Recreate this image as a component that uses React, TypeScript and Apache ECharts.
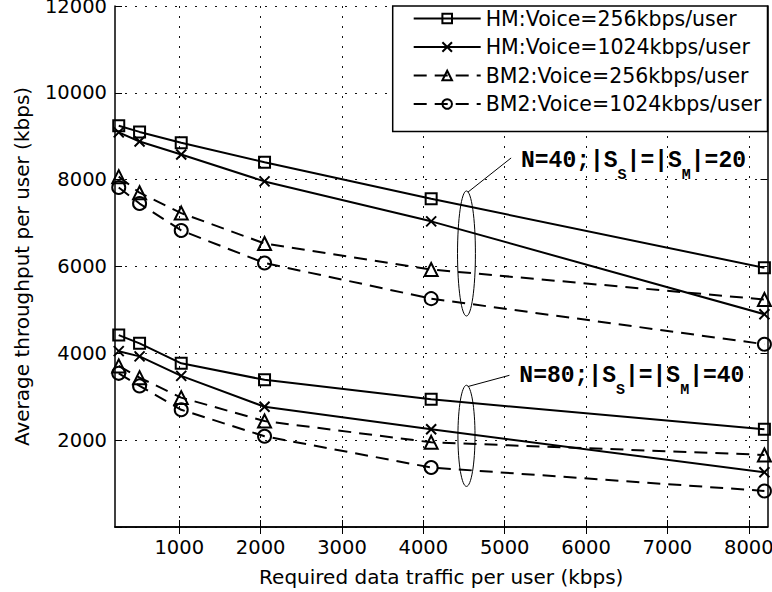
import React, { useEffect, useRef } from 'react';
import * as echarts from 'echarts';

// Required data traffic per user (kbps)
const xValues = [256, 512, 1024, 2048, 4096, 8192];
const xTicks = [1000, 2000, 3000, 4000, 5000, 6000, 7000, 8000];
const seriesNames = [
  'HM:Voice=256kbps/user',
  'HM:Voice=1024kbps/user',
  'BM2:Voice=256kbps/user',
  'BM2:Voice=1024kbps/user',
];

// N=40; |S_S|=|S_M|=20
const hm256N40 = [9240, 9100, 8850, 8400, 7560, 5970];
const hm1024N40 = [9090, 8880, 8580, 7960, 7040, 4900];
const bm256N40 = [8070, 7700, 7230, 6530, 5930, 5240];
const bm1024N40 = [7820, 7450, 6830, 6080, 5260, 4210];

// N=80; |S_S|=|S_M|=40
const hm256N80 = [4420, 4230, 3770, 3390, 2940, 2250];
const hm1024N80 = [4050, 3930, 3480, 2770, 2250, 1260];
const bm256N80 = [3710, 3440, 2980, 2440, 1950, 1660];
const bm1024N80 = [3540, 3250, 2700, 2090, 1370, 830];

const annotationLabels = [
  ['N=40;|S', 'S', '|=|S', 'M', '|=20'],
  ['N=80;|S', 'S', '|=|S', 'M', '|=40'],
];
// ellipse centre, half-sizes, leader line, text anchor (data coordinates)
const annotationEllipses = [
  [4530, 6300, 110, 1440],
  [4530, 2100, 105, 1165],
];
const annotationLeaders = [
  [4546, 7710, 5079, 8500],
  [4546, 3234, 5058, 3494],
];
const annotationTextAnchors = [
  [5200, 8437],
  [5180, 3477],
];

const FONT = 'DejaVu Sans';
const FS = 19.5;
const X_SYMBOL = 'path://M0,0L10,10M0,10L10,0';

function makeSeries(name: string, values: number[], kind: 'rect' | 'x' | 'triangle' | 'circle') {
  const dashed = kind === 'triangle' || kind === 'circle';
  const symbol = kind === 'x' ? X_SYMBOL : kind;
  const size = kind === 'rect' ? 11 : kind === 'x' ? 10 : 13;
  return {
    type: 'line',
    name,
    data: xValues.map((x, i) => [x, values[i]]),
    symbol,
    symbolSize: size,
    showAllSymbol: true,
    lineStyle: { color: '#000', width: 2, type: dashed ? [13, 8] : 'solid' },
    itemStyle: { color: 'rgba(0,0,0,0)', borderColor: '#000', borderWidth: 2 },
    emphasis: { disabled: true },
    z: 3,
  };
}

export default function App() {
  const ref = useRef<HTMLDivElement>(null);
  useEffect(() => {
    if (!ref.current) return;
    const chart = echarts.init(ref.current, null, { renderer: 'svg' });
    const axisLine = { show: true, lineStyle: { color: '#000', width: 1.5 } };
    const tickStyle = { color: '#000', width: 1 };
    const gridLine = { show: true, lineStyle: { color: '#111', width: 1, type: [2, 8] } };
    const option: any = {
      animation: false,
      backgroundColor: '#fff',
      textStyle: { fontFamily: FONT },
      grid: { left: 115, top: 6, right: 4.5, bottom: 65, containLabel: false, outerBoundsMode: 'none' },
      legend: {
        data: seriesNames,
        orient: 'vertical',
        right: 4.5,
        top: 6,
        padding: [2, 6, 17, 20],
        itemWidth: 67,
        itemHeight: 12,
        itemGap: 7.5,
        backgroundColor: '#fff',
        borderColor: '#000',
        borderWidth: 1.5,
        textStyle: { fontFamily: FONT, fontSize: 20.5, color: '#000' },
        selectedMode: false,
        z: 10,
      },
      xAxis: [
        {
          type: 'value',
          min: 210,
          max: 8230,
          position: 'bottom',
          axisLine,
          axisTick: { show: true, inside: true, length: 7, customValues: xTicks, lineStyle: tickStyle },
          axisLabel: {
            customValues: xTicks,
            color: '#000',
            fontFamily: FONT,
            fontSize: FS,
            margin: 10,
            formatter: (v: number) => String(v),
          },
          splitLine: gridLine,
          name: 'Required data traffic per user (kbps)',
          nameLocation: 'middle',
          nameGap: 40,
          nameTextStyle: { color: '#000', fontFamily: FONT, fontSize: 20 },
        },
        {
          type: 'value',
          min: 210,
          max: 8230,
          position: 'top',
          axisLine,
          axisTick: { show: true, inside: true, length: 7, customValues: xTicks, lineStyle: tickStyle },
          axisLabel: { show: false },
          splitLine: { show: false },
        },
      ],
      yAxis: [
        {
          type: 'value',
          min: 0,
          max: 12000,
          interval: 2000,
          position: 'left',
          axisLine,
          axisTick: { show: true, inside: true, length: 7, lineStyle: tickStyle },
          axisLabel: {
            color: '#000',
            fontFamily: FONT,
            fontSize: FS,
            margin: 8,
            formatter: (v: number) => (v === 0 ? '' : String(v)),
          },
          splitLine: gridLine,
          name: 'Average throughput per user (kbps)',
          nameLocation: 'middle',
          nameGap: 83,
          nameTextStyle: { color: '#000', fontFamily: FONT, fontSize: 20 },
        },
        {
          type: 'value',
          min: 0,
          max: 12000,
          interval: 2000,
          position: 'right',
          axisLine,
          axisTick: { show: true, inside: true, length: 7, lineStyle: tickStyle },
          axisLabel: { show: false },
          splitLine: { show: false },
        },
      ],
      series: [
        makeSeries(seriesNames[0], hm256N40, 'rect'),
        makeSeries(seriesNames[1], hm1024N40, 'x'),
        makeSeries(seriesNames[2], bm256N40, 'triangle'),
        makeSeries(seriesNames[3], bm1024N40, 'circle'),
        makeSeries(seriesNames[0], hm256N80, 'rect'),
        makeSeries(seriesNames[1], hm1024N80, 'x'),
        makeSeries(seriesNames[2], bm256N80, 'triangle'),
        makeSeries(seriesNames[3], bm1024N80, 'circle'),
      ],
    };
    chart.setOption(option);

    const px = (x: number, y: number) => chart.convertToPixel({ xAxisIndex: 0, yAxisIndex: 0 }, [x, y]) as number[];
    const graphics: any[] = [];
    annotationLabels.forEach((parts, i) => {
      const [ecx, ecy, erx, ery] = annotationEllipses[i];
      const c = px(ecx, ecy);
      const edge = px(ecx + erx, ecy + ery);
      graphics.push({
        type: 'ellipse',
        shape: { cx: c[0], cy: c[1], rx: Math.abs(edge[0] - c[0]), ry: Math.abs(edge[1] - c[1]) },
        style: { fill: 'none', stroke: '#000', lineWidth: 1 },
        z: 5,
      });
      const [lx1, ly1, lx2, ly2] = annotationLeaders[i];
      const a = px(lx1, ly1);
      const b = px(lx2, ly2);
      graphics.push({
        type: 'line',
        shape: { x1: a[0], y1: a[1], x2: b[0], y2: b[1] },
        style: { stroke: '#000', lineWidth: 1 },
        z: 5,
      });
      const t = px(annotationTextAnchors[i][0], annotationTextAnchors[i][1]);
      graphics.push({
        type: 'text',
        x: t[0],
        y: t[1],
        z: 5,
        style: {
          text: `{m|${parts[0]}}{s|${parts[1]}}{m|${parts[2]}}{s|${parts[3]}}{m|${parts[4]}}`,
          textAlign: 'left',
          textVerticalAlign: 'middle',
          verticalAlign: 'middle',
          fill: '#000',
          rich: {
            m: { fontFamily: 'Liberation Mono', fontWeight: 'bold', fontSize: 23, lineHeight: 44, fill: '#000', color: '#000' },
            s: { fontFamily: 'Liberation Mono', fontWeight: 'bold', fontSize: 15, lineHeight: 15, verticalAlign: 'bottom', fill: '#000', color: '#000' },
          },
        },
      });
    });
    chart.setOption({ graphic: graphics });

    return () => chart.dispose();
  }, []);
  return <div ref={ref} style={{ width: 772, height: 592, position: 'absolute', left: 0, top: 0 }} />;
}
